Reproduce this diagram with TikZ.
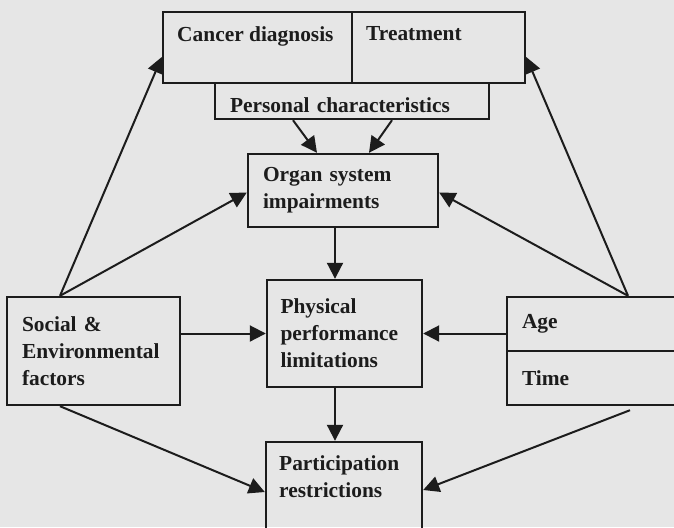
\documentclass[tikz,border=0pt]{standalone}
\usepackage{fontspec}
\setmainfont{Liberation Serif}
\usetikzlibrary{arrows.meta}
\definecolor{bg}{HTML}{E6E6E6}
\definecolor{ink}{HTML}{1C1C1C}
\tikzset{
	box/.style={draw=ink, line width=1.2pt, rectangle, inner sep=0pt, inner xsep=7.5pt,
		align=left, text=ink, font=\bfseries\fontsize{10.7}{13.5}\selectfont},
	txt/.style={inner sep=0pt, align=left, text=ink, font=\bfseries\fontsize{10.7}{13.5}\selectfont},
	link/.style={draw=ink, line width=1pt, -{Triangle[length=8pt,width=8pt]}},
	rule/.style={draw=ink, line width=1pt}
}
\begin{document}
\begin{tikzpicture}[x=0.5pt,y=-0.5pt]
	\path[use as bounding box, fill=bg] (0,0) rectangle (674,527);
	\clip (0,0) rectangle (674,527);

	% boxes
	\node[box, minimum width=94.5pt, minimum height=35.5pt] (cancer) at (257.5,47.5) {};
	\node[box, minimum width=86.5pt, minimum height=35.5pt] (treat) at (438.5,47.5) {};
	\node[box, minimum width=137pt, minimum height=18pt, text width=122pt, text height=11pt, text depth=0pt] (personal) at (352,101) {Personal characteristics};
	\node[box, minimum width=95pt, minimum height=36.5pt, text width=80pt] (organ) at (343,190.5) {Organ system\\impairments};
	\node[box, minimum width=77.5pt, minimum height=53.5pt, text width=64pt, inner xsep=6.75pt] (phys) at (344.5,333.5) {Physical\\performance\\limitations};
	\node[box, minimum width=86.5pt, minimum height=54pt, text width=71.5pt] (social) at (93.5,351) {Social \&\\Environmental\\factors};
	\node[box, minimum width=95pt, minimum height=27pt, text width=80pt] (age) at (602,324) {Age};
	\node[box, minimum width=95pt, minimum height=27pt, text width=80pt] (time) at (602,378) {Time};
	\node[box, minimum width=78pt, minimum height=59pt] (part) at (344,501) {};

	% texts at the top of their boxes
	\node[txt, anchor=north west] (cancer-t) at ([shift={(15,15)}]cancer.north west) {Cancer diagnosis};
	\node[txt, anchor=north west] (treat-t) at ([shift={(15,15)}]treat.north west) {Treatment};
	\node[txt, anchor=north west] (part-t) at ([shift={(14,14)}]part.north west) {Participation\\restrictions};

	% arrows
	\draw[link] ([shift={(-59,0)}]personal.south) -- ([shift={(-26,0)}]organ.north);
	\draw[link] ([shift={(40,0)}]personal.south) -- ([shift={(26,0)}]organ.north);
	\draw[link] ([shift={(-8,0)}]organ.south) -- ([shift={(-9.5,0)}]phys.north);
	\draw[link] ([shift={(-9.5,0)}]phys.south) -- ([shift={(-9,0)}]part.north);
	\draw[link] (social.east |- phys) -- (phys.west);
	\draw[link] (age.west |- phys) -- (phys.east);

	\draw[link] ([shift={(-33.5,0)}]social.north) -- ([shift={(0,9.5)}]cancer.west);
	\draw[link] ([shift={(-33.5,0)}]social.north) -- ([shift={(0,2)}]organ.west);
	\draw[link] ([shift={(26,0)}]age.north) -- ([shift={(0,9.5)}]treat.east);
	\draw[link] ([shift={(26,0)}]age.north) -- ([shift={(0,2)}]organ.east);

	\draw[link] ([shift={(-33.5,0)}]social.south) -- ([shift={(0,-9)}]part.west);
	\draw[link] ([shift={(28,4)}]time.south) -- ([shift={(0,-11)}]part.east);
\end{tikzpicture}
\end{document}
